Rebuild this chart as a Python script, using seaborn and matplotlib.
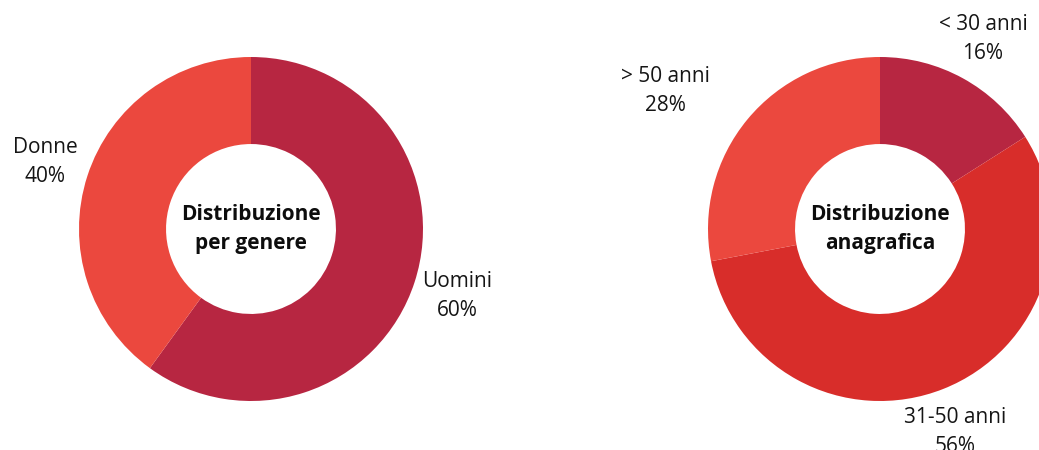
import matplotlib
matplotlib.use("Agg")
import matplotlib.pyplot as plt
import seaborn as sns
import numpy as np

# Data
gender_labels = ["Uomini", "Donne"]
gender_values = [60, 40]
gender_colors = ["#B72641", "#EB483E"]

age_labels = ["< 30 anni", "31-50 anni", "> 50 anni"]
age_values = [16, 56, 28]
age_colors = ["#B72641", "#D82D2A", "#EB483E"]

sns.set_style("white")
plt.rcParams['font.family'] = ['Open Sans', 'DejaVu Sans']

W, H = 1039, 450
fig = plt.figure(figsize=(W / 100, H / 100), dpi=100)

R_PX = 172   # outer radius in pixels
L = 1.6      # axes half-range in data units


def donut_axes(cx, cy):
    # cx, cy in pixels from top-left
    half = R_PX * L
    ax = fig.add_axes([(cx - half) / W, (H - cy - half) / H, 2 * half / W, 2 * half / H])
    ax.axis("off")
    return ax


def draw_donut(ax, values, colors, labels, title, label_pos):
    ax.pie(values, colors=colors, startangle=90, counterclock=False,
           radius=1.0, wedgeprops=dict(width=0.506, edgecolor="none"))
    ax.set_xlim(-L, L)
    ax.set_ylim(-L, L)
    ax.text(0, 0, title, ha="center", va="center", fontsize=15,
            fontweight="bold", color="#0d0d0d", linespacing=1.5)
    for lab, val, (x, y) in zip(labels, values, label_pos):
        ax.text(x, y, f"{lab}\n{val}%", ha="center", va="center",
                fontsize=15, color="#151515", linespacing=1.55)


ax1 = donut_axes(251, 229)
# label positions (data units, radius 1 = outer edge)
pos1 = [(206 / R_PX, -67 / R_PX), (-206 / R_PX, 67 / R_PX)]
draw_donut(ax1, gender_values, gender_colors, gender_labels,
           "Distribuzione\nper genere", pos1)

ax2 = donut_axes(880, 229)
pos2 = [(103 / R_PX, 190 / R_PX), (75 / R_PX, -203 / R_PX), (-215 / R_PX, 138 / R_PX)]
draw_donut(ax2, age_values, age_colors, age_labels,
           "Distribuzione\nanagrafica", pos2)

fig.savefig("out.png", dpi=100, facecolor="white")
